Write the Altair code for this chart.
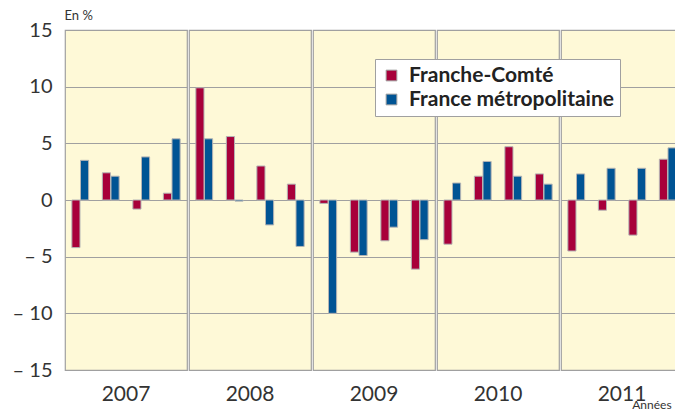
import altair as alt
import pandas as pd

years = ["2007", "2008", "2009", "2010", "2011"]
quarters = [1, 2, 3, 4]
series_names = ["Franche-Comté", "France métropolitaine"]
franche_comte = [-4.2, 2.4, -0.8, 0.6,
                 9.9, 5.6, 3.0, 1.4,
                 -0.3, -4.6, -3.6, -6.1,
                 -3.9, 2.1, 4.7, 2.3,
                 -4.5, -0.9, -3.1, 3.6]
france_metro = [3.5, 2.1, 3.8, 5.4,
                5.4, -0.1, -2.2, -4.1,
                -10.0, -4.9, -2.4, -3.5,
                1.5, 3.4, 2.1, 1.4,
                2.3, 2.8, 2.8, 4.6]
y_ticks = [-15, -10, -5, 0, 5, 10, 15]
colors = ["#A8003A", "#005494"]

rows = []
for i, (fc, fm) in enumerate(zip(franche_comte, france_metro)):
    y = years[i // 4]
    q = quarters[i % 4]
    rows.append({"year": y, "quarter": q, "series": series_names[0], "value": fc})
    rows.append({"year": y, "quarter": q, "series": series_names[1], "value": fm})
df = pd.DataFrame(rows)

FONT = "Lato"

bars = alt.Chart(df).mark_bar(stroke="#b4b4b4", strokeWidth=1).encode(
    x=alt.X("quarter:O", axis=None,
            scale=alt.Scale(paddingInner=0.45, paddingOuter=0.225)),
    xOffset=alt.XOffset("series:N", sort=series_names,
                        scale=alt.Scale(paddingInner=0.06)),
    y=alt.Y("value:Q",
            scale=alt.Scale(domain=[-15, 15], nice=False, zero=False),
            axis=alt.Axis(values=y_ticks, title="En %", titleAngle=0,
                          titleAlign="left", titleBaseline="bottom",
                          titleX=0, titleY=-8, titleFont=FONT,
                          titleFontSize=13, titleFontWeight="normal",
                          titleColor="#333",
                          labelExpr="datum.value < 0 ? '– ' + abs(datum.value) : datum.label",
                          labelFont=FONT, labelFontSize=20, labelColor="#333",
                          labelPadding=12, ticks=False, domain=False,
                          gridColor="#a0a0a0", gridWidth=1.2)),
    color=alt.Color("series:N", sort=series_names,
                    scale=alt.Scale(domain=series_names, range=colors),
                    legend=alt.Legend(title=None, orient="none",
                                      legendX=310, legendY=29,
                                      fillColor="white", strokeColor="#a0a0a0",
                                      padding=6, symbolType="square",
                                      symbolSize=115, symbolStrokeColor="#a0a0a0",
                                      symbolStrokeWidth=1,
                                      labelFont=FONT, labelFontSize=21,
                                      labelFontWeight="bold", labelColor="#222",
                                      labelLimit=400,
                                      rowPadding=2, labelOffset=7)),
).properties(width=122, height=340)

chart = bars.facet(
    column=alt.Column("year:O", sort=years,
                      header=alt.Header(title=None, labelOrient="bottom",
                                        labelFont=FONT, labelFontSize=21,
                                        labelColor="#333", labelPadding=13)),
    spacing=0,
).properties(
    title=alt.TitleParams("Années", orient="bottom", anchor="end",
                          font=FONT, fontSize=12, fontWeight="normal",
                          color="#333", offset=-5, dx=-12),
    autosize=alt.AutoSizeParams(type="none"),
    padding={"left": 57, "top": 22, "right": 610, "bottom": 381},
).configure_view(
    fill="#FEF9D7", stroke="#a0a0a0", strokeWidth=1.2
).configure_facet(spacing=0)

chart.save("out.html", embed_options={"renderer": "svg", "actions": False})
